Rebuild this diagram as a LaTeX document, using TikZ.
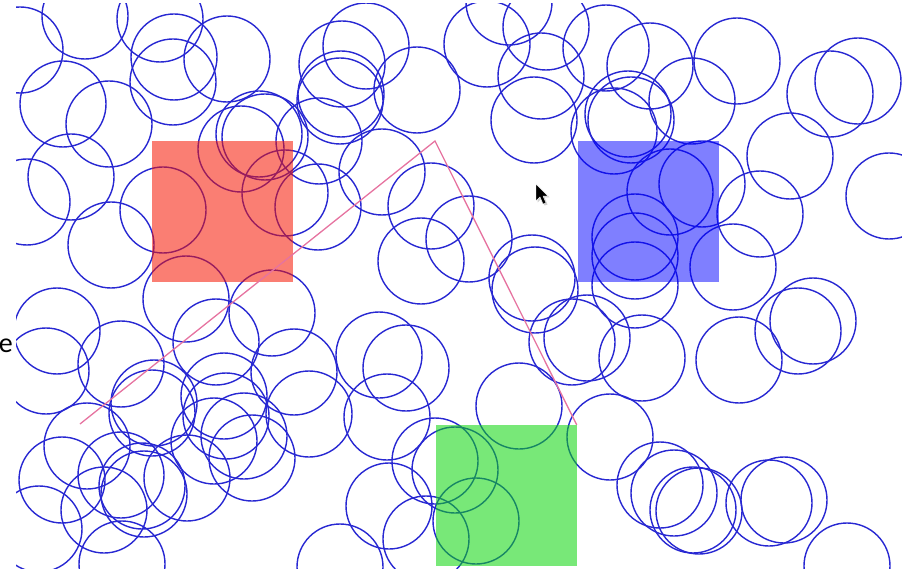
\documentclass[tikz,border=0pt]{standalone}
\usepackage{fontspec}
\setsansfont{Carlito}
\usetikzlibrary{positioning}
\definecolor{ringblue}{RGB}{40,40,210}
\definecolor{routepink}{RGB}{230,115,160}
\definecolor{goalred}{RGB}{245,20,0}
\definecolor{goalblue}{RGB}{0,0,255}
\definecolor{goalgreen}{RGB}{10,213,10}

\begin{document}
\begin{tikzpicture}[
    x=1pt, y=-1pt,
    obstacle/.style={
        draw=ringblue, line width=1.4pt
    },
    goal/.style={
        rectangle, draw=none, inner sep=0pt,
        minimum width=141pt, minimum height=141pt,
        fill opacity=0.55
    },
    route/.style={
        draw=routepink, line width=1.3pt, line join=miter
    },
    pointer/.style={fill=black, draw=white, line width=0.4pt}
]
\useasboundingbox (0,0) rectangle (902,569);

%% ── Scene (clipped canvas) ───────────────────────────────────────────────────
\begin{scope}
\clip (16,4) rectangle (902,568);

%% obstacles
\foreach \cx/\cy in {
    20/50, 85/16, 160/19, 174/57, 173/82, 227/59, 63/104, 109/124,
    71/177, 27/202, 111/245, 163/210, 186/299, 241/149, 259/134, 265/137,
    285/193, 318/207, 319/141, 382/172, 431/206, 421/261, 469/239,
    366/46, 342/64, 341/94, 340/101, 417/90, 487/44, 509/2, 546/27,
    541/76, 534/120, 606/48, 650/66, 737/61, 692/101, 614/131, 628/114,
    631/120, 670/192, 702/184, 635/237, 635/256, 635/285, 733/267,
    760/214, 790/156, 830/94, 858/81, 889/196, 532/278, 535/290,
    813/321, 798/331, 739/360, 572/342, 587/338, 642/358, 519/406,
    610/437, 660/485, 674/493, 693/510, 699/511, 769/503, 784/500,
    847/566, 435/461, 455/470, 476/521, 389/506, 426/539, 340/567,
    379/355, 406/368, 387/417, 294/372, 309/414, 272/313, 216/342,
    57/331, 46/371, 121/364, 154/403, 152/413, 224/396, 87/446,
    62/480, 121/475, 142/486, 144/494, 187/478, 214/441, 226/416,
    244/436, 252/458, 104/510, 39/529, 122/564}
    \draw[obstacle] (\cx,\cy) circle[radius=43pt];

%% goals
\node[goal, fill=goalred]   (redgoal)   at (222.5,212)   {};
\node[goal, fill=goalblue, fill opacity=0.5] (bluegoal) at (648,212) {};
\node[goal, fill=goalgreen] (greengoal) at (506,495.5)   {};

%% planned route
\coordinate (start) at (80,424);
\coordinate (turn)  at (435,141);
\draw[route] (start) -- (turn) -- (greengoal.north east);
\end{scope}

%% ── Mouse pointer ────────────────────────────────────────────────────────────
\fill[black, opacity=0.18] (537.5,185.5) -- ++(0,17) -- ++(4,-4) -- ++(3,7)
    -- ++(3,-1) -- ++(-3,-7) -- ++(5,0) -- cycle;
\draw[pointer] (536,184) -- ++(0,17) -- ++(4,-4) -- ++(3,7)
    -- ++(3,-1) -- ++(-3,-7) -- ++(5,0) -- cycle;

%% ── Cut-off label ────────────────────────────────────────────────────────────
\node[font=\sffamily\fontsize{28}{30}\selectfont, anchor=base east,
      inner sep=0pt] (edgelbl) at (13,352) {e};

\end{tikzpicture}
\end{document}
